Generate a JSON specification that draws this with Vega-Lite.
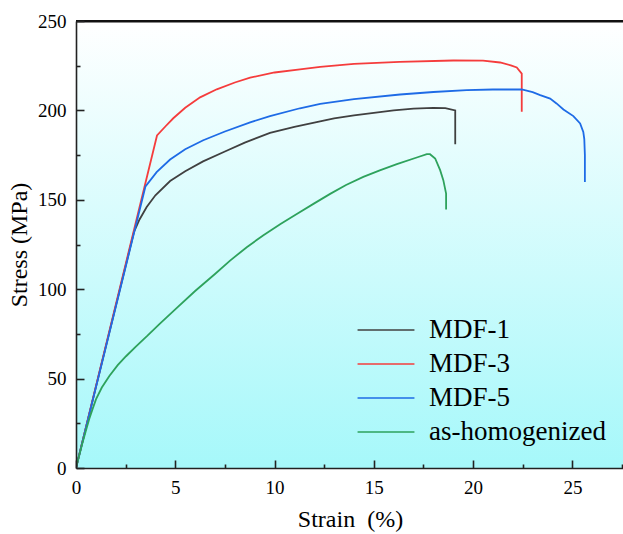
{
  "$schema": "https://vega.github.io/schema/vega-lite/v6.json",
  "width": 548,
  "height": 447,
  "autosize": {"type": "none"},
  "padding": {"left": 76, "top": 21, "right": 0, "bottom": 66},
  "background": "white",
  "config": {
    "view": {"stroke": null},
    "font": "Liberation Serif, Times New Roman, serif",
    "axis": {
      "labelFont": "Liberation Serif, Times New Roman, serif",
      "titleFont": "Liberation Serif, Times New Roman, serif",
      "labelColor": "black",
      "titleColor": "black",
      "labelFontSize": 19,
      "titleFontSize": 24,
      "titleFontWeight": "normal",
      "domainColor": "#222222",
      "domainWidth": 1.6,
      "tickColor": "#222222",
      "tickWidth": 1.6,
      "grid": false,
      "zindex": 1
    }
  },
  "resolve": {"axis": {"x": "independent", "y": "independent"}},
  "datasets": {
    "bg": [{"xa": 0, "xb": 27.6, "ya": 0, "yb": 250}],
    "curves": [
      {"s": "MDF-1", "i": 0, "x": 0, "y": 0},
      {"s": "MDF-1", "i": 1, "x": 2.92, "y": 132},
      {"s": "MDF-1", "i": 2, "x": 3.2, "y": 139},
      {"s": "MDF-1", "i": 3, "x": 3.56, "y": 146},
      {"s": "MDF-1", "i": 4, "x": 4, "y": 152.5},
      {"s": "MDF-1", "i": 5, "x": 4.74, "y": 160.5},
      {"s": "MDF-1", "i": 6, "x": 5.5, "y": 166},
      {"s": "MDF-1", "i": 7, "x": 6.4, "y": 171.5},
      {"s": "MDF-1", "i": 8, "x": 7.5, "y": 177},
      {"s": "MDF-1", "i": 9, "x": 8.5, "y": 182},
      {"s": "MDF-1", "i": 10, "x": 9.77, "y": 187.4},
      {"s": "MDF-1", "i": 11, "x": 11, "y": 190.8},
      {"s": "MDF-1", "i": 12, "x": 12, "y": 193.2},
      {"s": "MDF-1", "i": 13, "x": 13, "y": 195.5},
      {"s": "MDF-1", "i": 14, "x": 14, "y": 197.2},
      {"s": "MDF-1", "i": 15, "x": 15, "y": 198.6},
      {"s": "MDF-1", "i": 16, "x": 16, "y": 200},
      {"s": "MDF-1", "i": 17, "x": 17, "y": 201},
      {"s": "MDF-1", "i": 18, "x": 18, "y": 201.4},
      {"s": "MDF-1", "i": 19, "x": 18.6, "y": 201.3},
      {"s": "MDF-1", "i": 20, "x": 19.1, "y": 200},
      {"s": "MDF-1", "i": 21, "x": 19.1, "y": 181},
      {"s": "MDF-3", "i": 0, "x": 0, "y": 0},
      {"s": "MDF-3", "i": 1, "x": 4.08, "y": 186},
      {"s": "MDF-3", "i": 2, "x": 4.5, "y": 191},
      {"s": "MDF-3", "i": 3, "x": 4.9, "y": 195.6},
      {"s": "MDF-3", "i": 4, "x": 5.5, "y": 201.5},
      {"s": "MDF-3", "i": 5, "x": 6.25, "y": 207.3},
      {"s": "MDF-3", "i": 6, "x": 7.09, "y": 211.8},
      {"s": "MDF-3", "i": 7, "x": 8, "y": 215.6},
      {"s": "MDF-3", "i": 8, "x": 8.77, "y": 218.3},
      {"s": "MDF-3", "i": 9, "x": 10, "y": 221.2},
      {"s": "MDF-3", "i": 10, "x": 11.28, "y": 223},
      {"s": "MDF-3", "i": 11, "x": 12.3, "y": 224.4},
      {"s": "MDF-3", "i": 12, "x": 14, "y": 226},
      {"s": "MDF-3", "i": 13, "x": 16.3, "y": 227.1},
      {"s": "MDF-3", "i": 14, "x": 19, "y": 227.9},
      {"s": "MDF-3", "i": 15, "x": 20.5, "y": 227.8},
      {"s": "MDF-3", "i": 16, "x": 21.36, "y": 226.8},
      {"s": "MDF-3", "i": 17, "x": 21.9, "y": 225.2},
      {"s": "MDF-3", "i": 18, "x": 22.2, "y": 224},
      {"s": "MDF-3", "i": 19, "x": 22.45, "y": 220.6},
      {"s": "MDF-3", "i": 20, "x": 22.45, "y": 199.2},
      {"s": "MDF-5", "i": 0, "x": 0, "y": 0},
      {"s": "MDF-5", "i": 1, "x": 3.5, "y": 157.5},
      {"s": "MDF-5", "i": 2, "x": 4.06, "y": 165.5},
      {"s": "MDF-5", "i": 3, "x": 4.74, "y": 172.5},
      {"s": "MDF-5", "i": 4, "x": 5.5, "y": 178.3},
      {"s": "MDF-5", "i": 5, "x": 6.41, "y": 183.3},
      {"s": "MDF-5", "i": 6, "x": 7.5, "y": 188.2},
      {"s": "MDF-5", "i": 7, "x": 8.77, "y": 193.3},
      {"s": "MDF-5", "i": 8, "x": 9.77, "y": 196.8},
      {"s": "MDF-5", "i": 9, "x": 11.28, "y": 201.2},
      {"s": "MDF-5", "i": 10, "x": 12.3, "y": 203.6},
      {"s": "MDF-5", "i": 11, "x": 14, "y": 206.3},
      {"s": "MDF-5", "i": 12, "x": 16.32, "y": 208.9},
      {"s": "MDF-5", "i": 13, "x": 18, "y": 210.3},
      {"s": "MDF-5", "i": 14, "x": 19.68, "y": 211.3},
      {"s": "MDF-5", "i": 15, "x": 21, "y": 211.7},
      {"s": "MDF-5", "i": 16, "x": 22.45, "y": 211.7},
      {"s": "MDF-5", "i": 17, "x": 23, "y": 210.2},
      {"s": "MDF-5", "i": 18, "x": 23.38, "y": 208.5},
      {"s": "MDF-5", "i": 19, "x": 23.88, "y": 206.6},
      {"s": "MDF-5", "i": 20, "x": 24.2, "y": 203.9},
      {"s": "MDF-5", "i": 21, "x": 24.55, "y": 200.5},
      {"s": "MDF-5", "i": 22, "x": 25.05, "y": 196.8},
      {"s": "MDF-5", "i": 23, "x": 25.39, "y": 192.7},
      {"s": "MDF-5", "i": 24, "x": 25.55, "y": 188},
      {"s": "MDF-5", "i": 25, "x": 25.6, "y": 184},
      {"s": "MDF-5", "i": 26, "x": 25.63, "y": 175},
      {"s": "MDF-5", "i": 27, "x": 25.63, "y": 160},
      {"s": "as-homogenized", "i": 0, "x": 0, "y": 0},
      {"s": "as-homogenized", "i": 1, "x": 0.3, "y": 13},
      {"s": "as-homogenized", "i": 2, "x": 0.5, "y": 21},
      {"s": "as-homogenized", "i": 3, "x": 0.67, "y": 27.5},
      {"s": "as-homogenized", "i": 4, "x": 0.85, "y": 33.5},
      {"s": "as-homogenized", "i": 5, "x": 1.01, "y": 38.5},
      {"s": "as-homogenized", "i": 6, "x": 1.3, "y": 45},
      {"s": "as-homogenized", "i": 7, "x": 1.68, "y": 51.5},
      {"s": "as-homogenized", "i": 8, "x": 2.1, "y": 57.5},
      {"s": "as-homogenized", "i": 9, "x": 2.52, "y": 62.5},
      {"s": "as-homogenized", "i": 10, "x": 3.0, "y": 67.8},
      {"s": "as-homogenized", "i": 11, "x": 3.6, "y": 74},
      {"s": "as-homogenized", "i": 12, "x": 4.2, "y": 80.5},
      {"s": "as-homogenized", "i": 13, "x": 5.12, "y": 90},
      {"s": "as-homogenized", "i": 14, "x": 6, "y": 99},
      {"s": "as-homogenized", "i": 15, "x": 7, "y": 108.5},
      {"s": "as-homogenized", "i": 16, "x": 7.76, "y": 116},
      {"s": "as-homogenized", "i": 17, "x": 8.6, "y": 123.5},
      {"s": "as-homogenized", "i": 18, "x": 9.44, "y": 130.2},
      {"s": "as-homogenized", "i": 19, "x": 10.3, "y": 136.5},
      {"s": "as-homogenized", "i": 20, "x": 11.12, "y": 142},
      {"s": "as-homogenized", "i": 21, "x": 12, "y": 148},
      {"s": "as-homogenized", "i": 22, "x": 12.8, "y": 153.3},
      {"s": "as-homogenized", "i": 23, "x": 13.6, "y": 158.3},
      {"s": "as-homogenized", "i": 24, "x": 14.47, "y": 162.8},
      {"s": "as-homogenized", "i": 25, "x": 15.3, "y": 166.5},
      {"s": "as-homogenized", "i": 26, "x": 16.16, "y": 169.9},
      {"s": "as-homogenized", "i": 27, "x": 17.2, "y": 173.8},
      {"s": "as-homogenized", "i": 28, "x": 17.67, "y": 175.5},
      {"s": "as-homogenized", "i": 29, "x": 17.83, "y": 175.5},
      {"s": "as-homogenized", "i": 30, "x": 18.09, "y": 173.1},
      {"s": "as-homogenized", "i": 31, "x": 18.34, "y": 166.6},
      {"s": "as-homogenized", "i": 32, "x": 18.5, "y": 161},
      {"s": "as-homogenized", "i": 33, "x": 18.64, "y": 153.5},
      {"s": "as-homogenized", "i": 34, "x": 18.64, "y": 144.6}
    ]
  },
  "layer": [
    {
      "data": {"name": "bg"},
      "mark": {
        "type": "rect",
        "fill": {
          "gradient": "linear",
          "x1": 0, "y1": 0, "x2": 0, "y2": 1,
          "stops": [
            {"offset": 0, "color": "#ffffff"},
            {"offset": 1, "color": "#a6f8fa"}
          ]
        },
        "stroke": null
      },
      "encoding": {
        "x": {
          "field": "xa", "type": "quantitative",
          "scale": {"domain": [0, 27.6], "nice": false, "zero": false},
          "axis": {
            "orient": "bottom",
            "title": null,
            "values": [2.5, 7.5, 12.5, 17.5, 22.5, 27.5],
            "labels": false,
            "domain": false,
            "tickSize": -4,
            "zindex": 1
          }
        },
        "x2": {"field": "xb"},
        "y": {
          "field": "ya", "type": "quantitative",
          "scale": {"domain": [0, 250], "nice": false},
          "axis": {
            "orient": "left",
            "title": null,
            "values": [25, 75, 125, 175, 225],
            "labels": false,
            "domain": false,
            "tickSize": -4,
            "zindex": 1
          }
        },
        "y2": {"field": "yb"}
      }
    },
    {
      "data": {"name": "curves"},
      "mark": {"type": "line", "strokeWidth": 1.8, "clip": true},
      "encoding": {
        "x": {
          "field": "x",
          "type": "quantitative",
          "scale": {"domain": [0, 27.6], "nice": false, "zero": false},
          "axis": {
            "orient": "bottom",
            "title": "Strain\u00a0\u00a0(%)",
            "values": [0, 5, 10, 15, 20, 25],
            "tickSize": -8,
            "labelPadding": 18,
            "labelFlush": false,
            "titlePadding": 10,
            "zindex": 1
          }
        },
        "y": {
          "field": "y",
          "type": "quantitative",
          "scale": {"domain": [0, 250], "nice": false},
          "axis": {
            "orient": "left",
            "title": "Stress (MPa)",
            "values": [0, 50, 100, 150, 200, 250],
            "tickSize": -8,
            "labelPadding": 18,
            "labelFlush": false,
            "titlePadding": 6,
            "zindex": 1
          }
        },
        "color": {
          "field": "s",
          "type": "nominal",
          "scale": {
            "domain": ["MDF-1", "MDF-3", "MDF-5", "as-homogenized"],
            "range": ["#404040", "#f53c3c", "#1e6be6", "#2ea25c"]
          },
          "legend": {
            "orient": "none",
            "legendX": 291,
            "legendY": 290,
            "title": null,
            "padding": 0,
            "symbolType": "M-1.58,0H1.58",
            "symbolSize": 1296,
            "symbolStrokeWidth": 1.5,
            "labelFont": "Liberation Serif, Times New Roman, serif",
            "labelFontSize": 27,
            "labelColor": "black",
            "labelOffset": 24,
            "rowPadding": 2,
            "labelLimit": 400
          }
        },
        "order": {"field": "i", "type": "quantitative"}
      }
    },
    {
      "data": {"name": "bg"},
      "mark": {"type": "rule", "color": "#111111", "strokeWidth": 1.8},
      "encoding": {
        "x": {
          "field": "xa", "type": "quantitative",
          "axis": {"orient": "top", "title": null, "labels": false, "ticks": false, "domain": true, "domainColor": "#111111", "domainWidth": 1.8, "zindex": 1}
        },
        "x2": {"field": "xb"},
        "y": {"field": "yb", "type": "quantitative", "axis": null}
      }
    }
  ]
}
